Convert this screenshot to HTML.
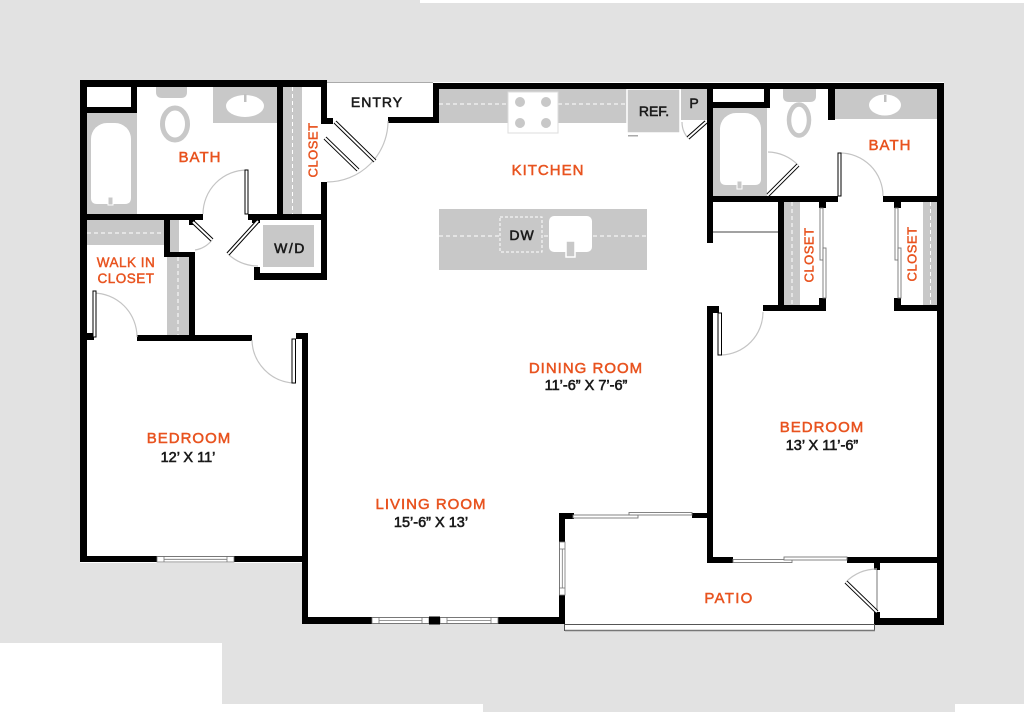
<!DOCTYPE html>
<html><head><meta charset="utf-8"><style>
html,body{margin:0;padding:0;width:1024px;height:712px;overflow:hidden;background:#e2e2e2}
svg{display:block}
.o{fill:#e8531f;font-family:"Liberation Sans",sans-serif;font-size:15px;letter-spacing:1px;text-anchor:middle;stroke:#e8531f;stroke-width:0.5}
.k{fill:#1a1a1a;font-family:"Liberation Sans",sans-serif;font-size:14px;text-anchor:middle;stroke:#1a1a1a;stroke-width:0.55}
.d{fill:#1a1a1a;font-family:"Liberation Sans",sans-serif;font-size:14.5px;text-anchor:middle;stroke:#1a1a1a;stroke-width:0.6}
.c{fill:#e8531f;font-family:"Liberation Sans",sans-serif;font-size:13px;letter-spacing:0.5px;text-anchor:middle;stroke:#e8531f;stroke-width:0.45}
</style></head><body>
<svg width="1024" height="712" viewBox="0 0 1024 712">
<rect width="1024" height="712" fill="#e2e2e2"/>
<rect x="420" y="0" width="604" height="3" fill="#fff"/>
<rect x="0" y="643" width="222" height="69" fill="#fff"/>
<rect x="222" y="704" width="261" height="8" fill="#fff"/>
<rect x="955" y="704" width="69" height="8" fill="#fff"/>

<rect x="80" y="80" width="864" height="483" fill="#fff"/>
<rect x="302" y="560" width="263" height="64" fill="#fff"/>
<rect x="565" y="560" width="310" height="71" fill="#fff"/>
<rect x="875" y="560" width="69" height="65" fill="#fff"/>
<rect x="327" y="80" width="617" height="2" fill="#e2e2e2"/>
<line x1="327" y1="82.5" x2="433" y2="82.5" stroke="#aaa" stroke-width="1"/>

<g fill="#c8c8c8">
  <rect x="87" y="113" width="50" height="101"/>
  <path d="M156,87 H187 V92 Q187,98 181,98 H162 Q156,98 156,92 Z"/>
  <rect x="213" y="87" width="64" height="36"/>
  <rect x="283" y="87" width="19" height="127"/>
  <rect x="263" y="225" width="51" height="42"/>
  <rect x="87" y="220" width="77" height="25"/>
  <rect x="170" y="220" width="9" height="32"/>
  <rect x="167" y="257" width="22" height="80"/>
  <rect x="439" y="89" width="188" height="34"/>
  <rect x="681" y="89" width="26" height="31"/>
  <rect x="439" y="209" width="208" height="61"/>
  <rect x="713" y="108" width="54" height="88"/>
  <path d="M783,89 H816 V96 Q816,102 810,102 H789 Q783,102 783,96 Z"/>
  <rect x="835" y="89" width="103" height="30"/>
  <rect x="784" y="202" width="16" height="103"/>
  <rect x="923" y="202" width="15" height="103"/>
</g>
<rect x="627" y="89" width="53" height="44" fill="#c8c8c8" stroke="#fff" stroke-width="1.5"/>
<rect x="628" y="135" width="10" height="1.5" fill="#aaa"/>

<path d="M91,139 A16,16 0 0 1 107,123 H115 A16,16 0 0 1 131,139 V198 Q131,204 125,204 H97 Q91,204 91,198 Z" fill="#fff"/>
<rect x="108" y="197" width="5" height="8" fill="#c8c8c8" stroke="#fff" stroke-width="1"/>
<path d="M720,129 A16,16 0 0 1 736,113 H745 A16,16 0 0 1 761,129 V179 Q761,185 755,185 H726 Q720,185 720,179 Z" fill="#fff"/>
<rect x="737" y="181" width="5" height="8" fill="#c8c8c8" stroke="#fff" stroke-width="1"/>
<ellipse cx="175" cy="124" rx="12.5" ry="16" fill="#fff" stroke="#c8c8c8" stroke-width="5"/>
<ellipse cx="799" cy="120" rx="10" ry="15.5" fill="#fff" stroke="#c8c8c8" stroke-width="4.5"/>
<ellipse cx="245" cy="106" rx="19" ry="11" fill="#fff"/>
<rect x="244" y="94" width="2.5" height="8" fill="#c0c0c0"/>
<ellipse cx="885" cy="105" rx="16" ry="10.5" fill="#fff"/>
<rect x="884" y="95" width="2.5" height="7" fill="#c0c0c0"/>

<g stroke="#fff" stroke-width="1" stroke-dasharray="4 3" fill="none">
  <line x1="292.5" y1="87" x2="292.5" y2="214"/>
  <line x1="87" y1="233" x2="164" y2="233"/>
  <line x1="178" y1="257" x2="178" y2="337"/>
  <line x1="439" y1="104" x2="627" y2="104"/>
  <line x1="439" y1="236" x2="647" y2="236"/>
  <line x1="792" y1="202" x2="792" y2="305"/>
  <line x1="930.5" y1="202" x2="930.5" y2="305"/>
</g>
<rect x="508" y="92" width="50" height="41" fill="#fff" stroke="#ddd" stroke-width="1"/>
<g fill="#c8c8c8">
  <circle cx="520" cy="102" r="5"/><circle cx="546" cy="102" r="5"/>
  <circle cx="520" cy="123" r="5"/><circle cx="546" cy="123" r="5"/>
</g>
<rect x="500" y="217" width="42" height="35" fill="#c8c8c8" stroke="#fff" stroke-width="1" stroke-dasharray="3 2"/>
<rect x="549" y="216" width="43" height="36" rx="5" fill="#fff"/>
<rect x="566" y="241" width="9" height="16" fill="#c8c8c8" stroke="#fff" stroke-width="1.5"/>

<g fill="#000">
  <rect x="80" y="80" width="247" height="7"/>
  <rect x="80" y="80" width="7" height="482"/>
  <rect x="131" y="80" width="6" height="33"/>
  <rect x="80" y="107" width="57" height="6"/>
  <rect x="277" y="80" width="6" height="140"/>
  <rect x="321" y="80" width="6" height="43"/>
  <rect x="321" y="118" width="12" height="6"/>
  <rect x="321" y="182" width="6" height="98"/>
  <rect x="80" y="214" width="123" height="6"/>
  <rect x="248" y="214" width="79" height="6"/>
  <rect x="252" y="214" width="8" height="9"/>
  <rect x="254" y="267" width="6" height="13"/>
  <rect x="254" y="273" width="73" height="7"/>
  <rect x="164" y="218" width="6" height="39"/>
  <rect x="164" y="252" width="31" height="5"/>
  <rect x="189" y="252" width="6" height="88"/>
  <rect x="189" y="220" width="6" height="5"/>
  <rect x="137" y="335" width="115" height="6"/>
  <rect x="87" y="333" width="7" height="7"/>
  <rect x="296" y="333" width="12" height="6"/>
  <rect x="302" y="333" width="6" height="291"/>
  <rect x="80" y="556" width="228" height="6"/>
  <rect x="302" y="617" width="263" height="7"/>
  <rect x="559" y="513" width="6" height="111"/>
  <rect x="559" y="513" width="15" height="6"/>
  <rect x="692" y="513" width="20" height="5"/>
  <rect x="707" y="306" width="6" height="257"/>
  <rect x="707" y="306" width="12" height="7"/>
  <rect x="707" y="83" width="6" height="160"/>
  <rect x="707" y="557" width="26" height="6"/>
  <rect x="847" y="557" width="97" height="6"/>
  <rect x="874" y="563" width="6" height="7"/>
  <rect x="874" y="612" width="6" height="13"/>
  <rect x="874" y="618" width="70" height="7"/>
  <rect x="937" y="83" width="7" height="542"/>
  <rect x="433" y="83" width="511" height="6"/>
  <rect x="433" y="83" width="6" height="40"/>
  <rect x="388" y="117" width="51" height="6"/>
  <rect x="764" y="83" width="6" height="25"/>
  <rect x="707" y="102" width="63" height="6"/>
  <rect x="828" y="83" width="7" height="37"/>
  <rect x="707" y="196" width="131" height="6"/>
  <rect x="883" y="196" width="61" height="6"/>
  <rect x="778" y="196" width="6" height="115"/>
  <rect x="763" y="305" width="63" height="6"/>
  <rect x="819" y="202" width="7" height="6"/>
  <rect x="819" y="298" width="7" height="13"/>
  <rect x="894" y="202" width="7" height="6"/>
  <rect x="894" y="298" width="7" height="13"/>
  <rect x="894" y="305" width="50" height="6"/>
</g>

<g fill="#fff" stroke="#777" stroke-width="0.8">
  <rect x="157" y="556.5" width="77" height="5.5"/>
  <rect x="372" y="617.5" width="57" height="6"/>
  <rect x="440" y="617.5" width="58" height="6"/>
  <rect x="559.5" y="542" width="5.5" height="53"/>
</g>
<g stroke="#777" stroke-width="0.8" fill="none">
  <line x1="164" y1="556.5" x2="164" y2="562"/><line x1="227" y1="556.5" x2="227" y2="562"/>
  <line x1="164" y1="559.3" x2="227" y2="559.3"/>
  <line x1="379" y1="617.5" x2="379" y2="623.5"/><line x1="422" y1="617.5" x2="422" y2="623.5"/>
  <line x1="379" y1="620.5" x2="422" y2="620.5"/>
  <line x1="447" y1="617.5" x2="447" y2="623.5"/><line x1="491" y1="617.5" x2="491" y2="623.5"/>
  <line x1="447" y1="620.5" x2="491" y2="620.5"/>
  <line x1="559.5" y1="549" x2="565" y2="549"/><line x1="559.5" y1="588" x2="565" y2="588"/>
  <line x1="562.3" y1="549" x2="562.3" y2="588"/>
</g>
<rect x="429" y="616.5" width="11" height="8" fill="#000"/>

<g fill="#fff" stroke="#777" stroke-width="0.9">
  <rect x="573" y="515" width="65" height="3"/>
  <rect x="629" y="512.5" width="63" height="2.5"/>
  <rect x="733" y="559.5" width="59" height="3"/>
  <rect x="784" y="557" width="63" height="3"/>
  <rect x="820" y="208" width="3" height="52"/>
  <rect x="823" y="248" width="3" height="50"/>
  <rect x="895" y="208" width="3" height="52"/>
  <rect x="898" y="248" width="3" height="50"/>
</g>
<rect x="564.5" y="624.5" width="310" height="6" fill="#fff" stroke="#555" stroke-width="1"/>
<line x1="565" y1="630.5" x2="875" y2="630.5" stroke="#777" stroke-width="1.5"/>

<line x1="713" y1="232" x2="778" y2="232" stroke="#444" stroke-width="1"/>
<line x1="877" y1="570" x2="877" y2="612" stroke="#777" stroke-width="1"/>

<g fill="none" stroke="#c4c4c4" stroke-width="1.2">
  <path d="M247,170 A44,44 0 0 0 203,214"/>
  <path d="M388,121 A61,61 0 0 1 327,182"/>
  <path d="M212,240 A27,27 0 0 1 195,250"/>
  <path d="M228,254 A45,45 0 0 0 258,266"/>
  <path d="M93,293 A44,44 0 0 1 137,337"/>
  <path d="M252,340 A44,44 0 0 0 294,383"/>
  <path d="M768,152 A43,43 0 0 1 798,165"/>
  <path d="M840,153 A43,43 0 0 1 883,196"/>
  <path d="M721,355 A43,43 0 0 0 763,312"/>
  <path d="M682,122 A24,24 0 0 0 688,138"/>
  <path d="M846,582 A43,43 0 0 1 877,569"/>
</g>

<g stroke="#000" stroke-width="4">
  <line x1="335" y1="122" x2="375" y2="161"/>
  <line x1="325" y1="138" x2="358" y2="170"/>
  <line x1="193" y1="222" x2="212" y2="240"/>
  <line x1="258" y1="221" x2="228" y2="254"/>
  <line x1="768" y1="195" x2="798" y2="165"/>
  <line x1="706" y1="122" x2="688" y2="138"/>
  <line x1="877" y1="612" x2="846" y2="582"/>
</g>
<g stroke="#fff" stroke-width="2">
  <line x1="335" y1="122" x2="375" y2="161"/>
  <line x1="325" y1="138" x2="358" y2="170"/>
  <line x1="193" y1="222" x2="212" y2="240"/>
  <line x1="258" y1="221" x2="228" y2="254"/>
  <line x1="768" y1="195" x2="798" y2="165"/>
  <line x1="706" y1="122" x2="688" y2="138"/>
  <line x1="877" y1="612" x2="846" y2="582"/>
</g>
<g fill="#fff" stroke="#000" stroke-width="1">
  <rect x="245" y="170" width="3" height="44"/>
  <rect x="93" y="291" width="3" height="46"/>
  <rect x="292" y="339" width="3.5" height="44"/>
  <rect x="838" y="153" width="3" height="43"/>
  <rect x="718" y="313" width="3.5" height="42"/>
</g>

<text class="o" x="200" y="162">BATH</text>
<text class="o" x="890" y="150">BATH</text>
<text class="o" x="548" y="175">KITCHEN</text>
<text class="o" x="586" y="373">DINING ROOM</text>
<text class="d" x="586" y="390">11’-6” X 7’-6”</text>
<text class="o" x="822" y="432">BEDROOM</text>
<text class="d" x="822" y="450">13’ X 11’-6”</text>
<text class="o" x="189" y="443">BEDROOM</text>
<text class="d" x="188" y="462">12’ X 11’</text>
<text class="o" x="431" y="509">LIVING ROOM</text>
<text class="d" x="431" y="527">15’-6” X 13’</text>
<text class="o" x="729" y="603" style="letter-spacing:1.3px">PATIO</text>
<text class="c" x="126" y="267" style="font-size:13.5px">WALK IN</text>
<text class="c" x="126" y="283" style="font-size:13.5px">CLOSET</text>
<text class="c" transform="translate(317.5,150) rotate(-90)">CLOSET</text>
<text class="c" transform="translate(813.5,255) rotate(-90)">CLOSET</text>
<text class="c" transform="translate(916.5,254) rotate(-90)">CLOSET</text>
<text class="k" x="377" y="107" style="letter-spacing:1px">ENTRY</text>
<text class="k" x="654" y="116">REF.</text>
<text class="k" x="694" y="108">P</text>
<text class="k" x="522" y="240" style="letter-spacing:1px">DW</text>
<text class="k" x="290" y="253" style="letter-spacing:1.5px">W/D</text>
</svg>
</body></html>
